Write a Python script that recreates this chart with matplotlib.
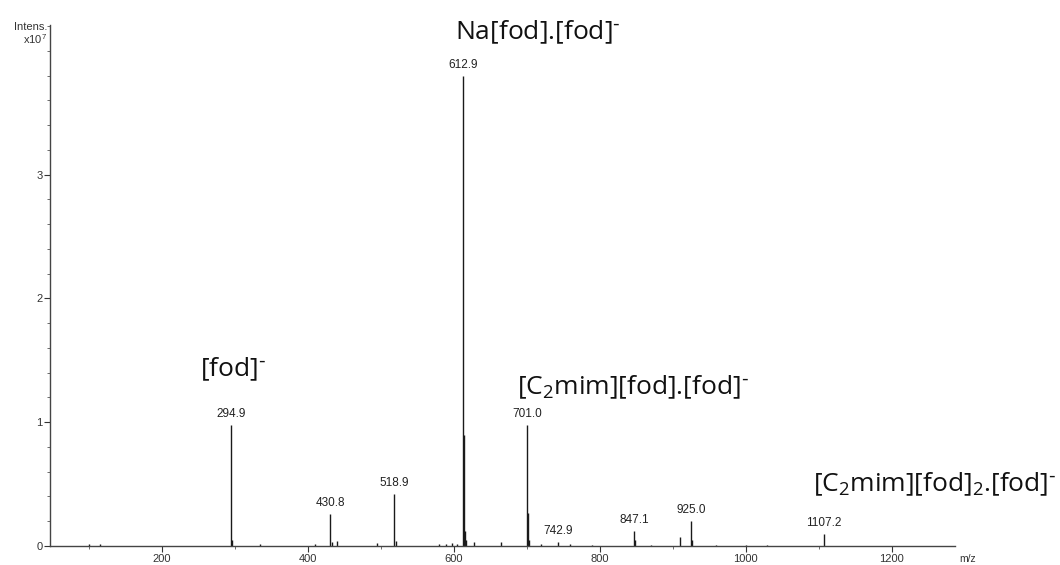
import numpy as np
import matplotlib.pyplot as plt
from matplotlib.ticker import MultipleLocator

plt.rcParams['font.family'] = ['Liberation Sans', 'DejaVu Sans']
plt.rcParams['mathtext.default'] = 'regular'

# stick spectrum (m/z, intensity in 1e7)
peak_mz = [100, 115, 294.9, 296.5, 335, 410, 430.8, 432.8, 440, 495, 518.9, 520.5,
           580, 590, 598, 605, 612.9, 614.0, 615.2, 616.5, 628, 665, 701.0, 702.0,
           703.2, 720, 742.9, 760, 790, 847.1, 849.0, 870, 910, 925.0, 927.0,
           960, 1000, 1030, 1107.2]
peak_int = [0.02, 0.015, 0.98, 0.05, 0.02, 0.02, 0.26, 0.03, 0.04, 0.025, 0.42, 0.04,
            0.015, 0.02, 0.025, 0.02, 3.80, 0.90, 0.12, 0.05, 0.03, 0.035, 0.98, 0.27,
            0.05, 0.02, 0.03, 0.015, 0.01, 0.12, 0.05, 0.01, 0.07, 0.20, 0.05,
            0.01, 0.01, 0.01, 0.10]

# labelled peaks
label_mz = [294.9, 430.8, 518.9, 612.9, 701.0, 742.9, 847.1, 925.0, 1107.2]
label_int = [0.98, 0.26, 0.42, 3.80, 0.98, 0.03, 0.12, 0.20, 0.10]

# ion assignments
ion_names = [r"[fod]$^{\text{-}}$", r"Na[fod].[fod]$^{\text{-}}$",
             r"[C$_2$mim][fod].[fod]$^{\text{-}}$", r"[C$_2$mim][fod]$_2$.[fod]$^{\text{-}}$"]
ion_x = [252, 602, 687, 1093]
ion_y = [1.43, 4.15, 1.28, 0.50]

fig = plt.figure(figsize=(10.6, 5.65), dpi=100)
ax = fig.add_axes([50/1060, 19/565, 905/1060, 521/565])

ax.vlines(peak_mz, 0, peak_int, color='#1a1a1a', lw=1.0)

for mz, h in zip(label_mz, label_int):
    ax.text(mz, h + 0.04, "%.1f" % mz, ha='center', va='bottom', fontsize=8.5, color='#222222')

for name, x, y in zip(ion_names, ion_x, ion_y):
    ax.text(x, y, name, ha='left', va='center', fontsize=19, color='#111111',
            family=['Open Sans', 'DejaVu Sans'], clip_on=False)

ax.set_xlim(47, 1287)
ax.set_ylim(0, 4.21)
ax.xaxis.set_minor_locator(MultipleLocator(100))
ax.yaxis.set_minor_locator(MultipleLocator(0.2))
ax.set_xticks([200, 400, 600, 800, 1000, 1200])
ax.set_yticks([0, 1, 2, 3])
ax.tick_params(axis='both', which='major', length=4, width=0.8, labelsize=8,
               colors='#333333', pad=1.5)
ax.tick_params(axis='both', which='minor', length=2, width=0.6, colors='#555555')

for s in ['top', 'right']:
    ax.spines[s].set_visible(False)
for s in ['left', 'bottom']:
    ax.spines[s].set_color('#444444')
    ax.spines[s].set_linewidth(1.0)

ax.annotate("m/z", xy=(1.0, 0), xycoords='axes fraction', xytext=(3, -5.5),
            textcoords='offset points', ha='left', va='top', fontsize=7.5, color='#333333')
ax.annotate("Intens.\nx10$^{7}$", xy=(0, 1), xycoords='axes fraction', xytext=(-2, 2),
            textcoords='offset points', ha='right', va='top', fontsize=8,
            color='#333333', multialignment='right', linespacing=1.0)

fig.savefig("out.png", dpi=100)
